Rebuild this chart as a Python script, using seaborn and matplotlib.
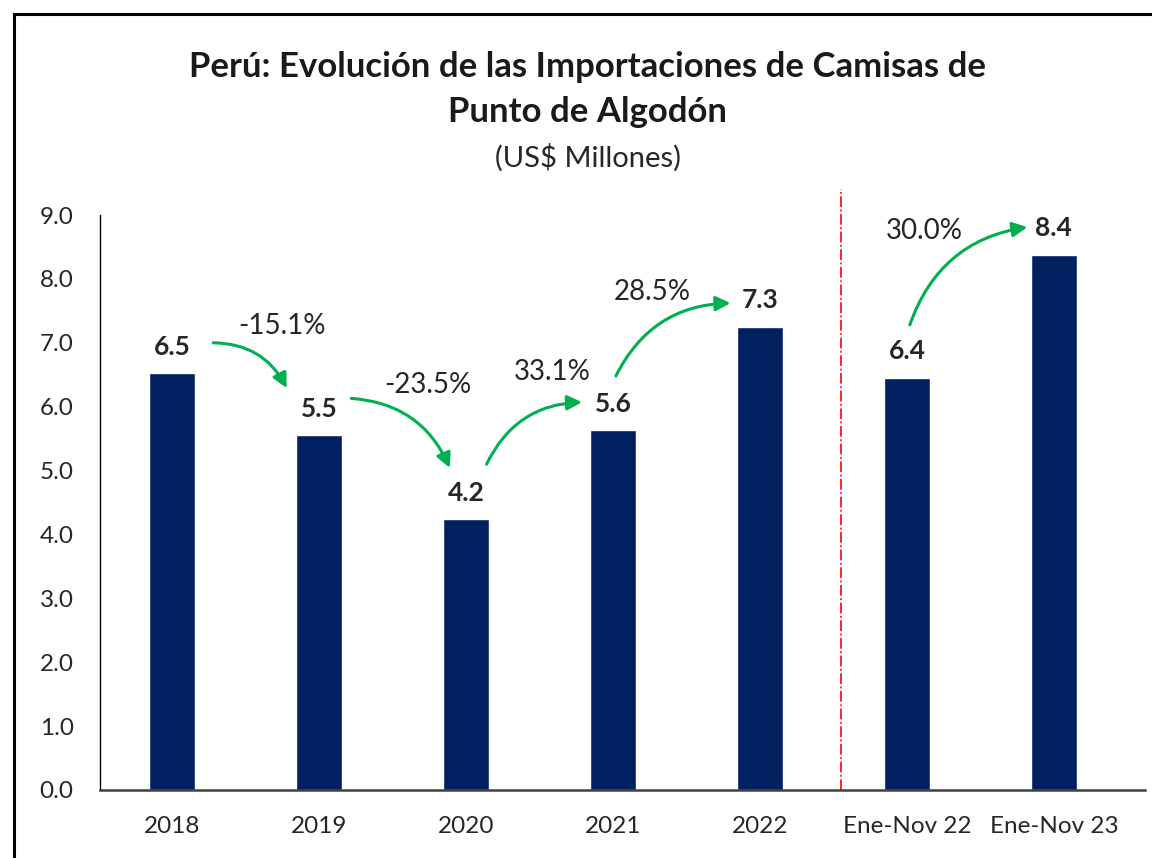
"""
Perú: importaciones de camisas de punto de algodón - bar chart with growth arrows
"""
import matplotlib
matplotlib.use("Agg")
import matplotlib.pyplot as plt
import matplotlib.patches as mpatches
import pandas as pd
import seaborn as sns

# Data
periods = ["2018", "2019", "2020", "2021", "2022", "Ene-Nov 22", "Ene-Nov 23"]
values = [6.52, 5.55, 4.24, 5.63, 7.25, 6.45, 8.38]
value_labels = ["6.5", "5.5", "4.2", "5.6", "7.3", "6.4", "8.4"]
growth_pairs = [(0, 1), (1, 2), (2, 3), (3, 4), (5, 6)]
growth_labels = ["-15.1%", "-23.5%", "33.1%", "28.5%", "30.0%"]
y_ticks = [0, 1, 2, 3, 4, 5, 6, 7, 8, 9]

# Arrow / label placement (offsets from bar positions, data units)
arrow_layout = [
    # (start dx, start dy, end dx, end dy, label dx, label dy)
    (0.28, 0.48, -0.22, 0.74, 0.75, 0.74),
    (0.22, 0.58, -0.11, 0.80, 0.74, 0.79),
    (0.14, 0.86, -0.21, 0.44, 0.59, 2.30),
    (0.02, 0.85, -0.20, 0.37, 0.27, 2.16),
    (0.02, 0.83, -0.18, 0.43, 0.12, 2.30),
]

NAVY = "#002060"
GREEN = "#00B050"
TEXT = "#262626"

sns.set_theme(style="white")
plt.rcParams["font.family"] = ["Lato", "DejaVu Sans"]

df = pd.DataFrame({"periodo": periods, "valor": values})

fig = plt.figure(figsize=(11.52, 8.58), dpi=100)
ax = fig.add_axes([0.0868, 0.0793, 0.9071, 0.6701])

sns.barplot(data=df, x="periodo", y="valor", color=NAVY, width=0.31,
            saturation=1, ax=ax)

ax.set_xlim(-0.49, 6.62)
ax.set_ylim(0, 9)
ax.set_yticks(y_ticks)
ax.set_yticklabels([f"{t:.1f}" for t in y_ticks])
ax.set_xlabel("")
ax.set_ylabel("")
ax.tick_params(axis="x", length=0, pad=18.5, labelsize=17.5, colors=TEXT)
ax.tick_params(axis="y", length=0, pad=19, labelsize=17.5, colors=TEXT)

for side in ["top", "right"]:
    ax.spines[side].set_visible(False)
ax.spines["left"].set_color("#000000")
ax.spines["left"].set_linewidth(1.0)
ax.spines["bottom"].set_color("#404040")
ax.spines["bottom"].set_linewidth(1.8)

# Value labels
for i, (v, lab) in enumerate(zip(values, value_labels)):
    ax.annotate(lab, (i, v), xytext=(0, 10.5), textcoords="offset points",
                ha="center", va="bottom", fontsize=19, fontweight="bold",
                color=TEXT)

# Growth arrows
for (a, b), lab, lay in zip(growth_pairs, growth_labels, arrow_layout):
    sdx, sdy, edx, edy, ldx, ldy = lay
    ax.annotate("", xy=(b + edx, values[b] + edy),
                xytext=(a + sdx, values[a] + sdy),
                arrowprops=dict(arrowstyle="-|>", color=GREEN, lw=2.2,
                                mutation_scale=22,
                                connectionstyle="arc3,rad=-0.3",
                                shrinkA=0, shrinkB=0),
                annotation_clip=False)
    ax.text(a + ldx, values[a] + ldy, lab, ha="center", va="center",
            fontsize=20, color=TEXT)

# Separator between annual and partial-year figures
ax.plot([4.55, 4.55], [0, 9.4], color="red", linestyle="-.", lw=1.2,
        clip_on=False)

# Titles
fig.text(0.51, 0.922, "Perú: Evolución de las Importaciones de Camisas de",
         ha="center", va="center", fontsize=25, fontweight="bold",
         color="#1a1a1a")
fig.text(0.51, 0.869, "Punto de Algodón", ha="center", va="center",
         fontsize=25, fontweight="bold", color="#1a1a1a")
fig.text(0.51, 0.816, "(US$ Millones)", ha="center", va="center",
         fontsize=21, color=TEXT)

# Outer frame (partially cropped in the original)
frame = mpatches.Rectangle((0.0122, -0.1), 1.2, 1.0837, transform=fig.transFigure,
                           fill=False, edgecolor="black", lw=2.2, clip_on=False)
fig.patches.append(frame)

fig.savefig("out.png", dpi=100)
plt.close(fig)
